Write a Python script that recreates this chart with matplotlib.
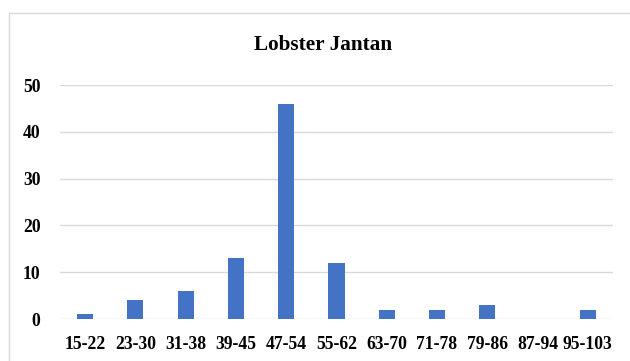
import matplotlib
matplotlib.use('Agg')
import matplotlib.pyplot as plt
from matplotlib.patches import Rectangle

categories = ['15-22', '23-30', '31-38', '39-45', '47-54', '55-62',
              '63-70', '71-78', '79-86', '87-94', '95-103']
counts = [1, 4, 6, 13, 46, 12, 2, 2, 3, 0, 2]

plt.rcParams['font.family'] = ['Liberation Serif', 'DejaVu Serif']

fig = plt.figure(figsize=(6.3, 3.61), dpi=100)
fig.patches.append(Rectangle((9 / 630, -0.2), 1.2, 1.2 - 13 / 361,
                             transform=fig.transFigure, fill=False,
                             edgecolor='#D9D9D9', linewidth=1.0))

ax = fig.add_axes([60 / 630, 42 / 361, 553 / 630, 234 / 361])
x = range(len(categories))
ax.bar(x, counts, width=0.32, color='#4472C4', zorder=3)

ax.set_xlim(-0.5, len(categories) - 0.5)
ax.set_ylim(0, 50)
ax.set_yticks([0, 10, 20, 30, 40, 50])
ax.set_xticks(list(x))
ax.set_xticklabels(categories)
ax.yaxis.grid(True, color='#D9D9D9', linewidth=1.0, zorder=0)
for s in ax.spines.values():
    s.set_visible(False)
ax.tick_params(axis='both', length=0, labelsize=12.7)
ax.tick_params(axis='x', pad=12)
ax.tick_params(axis='y', pad=14)
for lbl in ax.get_xticklabels() + ax.get_yticklabels():
    lbl.set_fontweight('bold')

fig.text(323 / 630, 1 - 45 / 361, 'Lobster Jantan', ha='center', va='center',
         fontsize=15.3, fontweight='bold')

fig.savefig('out.png', dpi=100)
